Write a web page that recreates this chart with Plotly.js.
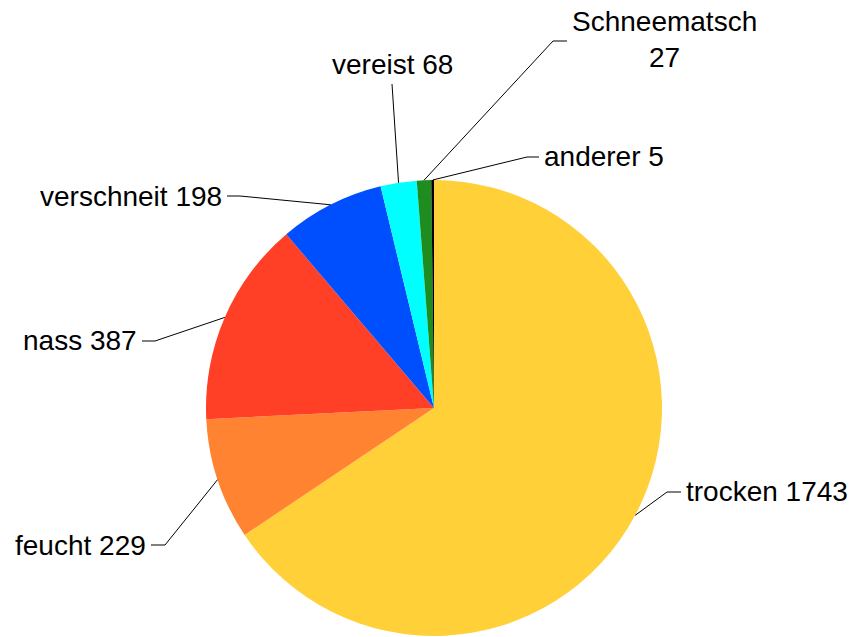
<!DOCTYPE html>
<html>
<head>
<meta charset="utf-8">
<script src="https://cdn.plot.ly/plotly-3.0.1.min.js"></script>
<style>html,body{margin:0;padding:0;background:#fff;}#chart{width:852px;height:637px;}</style>
</head>
<body>
<div id="chart"></div>
<script>
// Data
const categories = ["trocken", "feucht", "nass", "verschneit", "vereist", "Schneematsch", "anderer"];
const values = [1743, 229, 387, 198, 68, 27, 5];
const labelTexts = ["trocken 1743", "feucht 229", "nass 387", "verschneit 198", "vereist 68", "Schneematsch<br>27", "anderer 5"];

// Styles
const colors = ["#FFD038", "#FF8330", "#FF3F26", "#004FFF", "#00FFFF", "#1E8C1E", "#000000"];
const W = 852, H = 637;
const cx = 434, cy = 408, R = 228;   // pie geometry in pixels
// label layout (pixels): bend point, end of horizontal segment, text anchor
const labelLayout = [
  {bx: 667, by: 492, ex: 681, ey: 492, tx: 684, ty: 492, xa: "left",   ya: "middle"},
  {bx: 165, by: 545, ex: 151, ey: 545, tx: 148, ty: 545, xa: "right",  ya: "middle"},
  {bx: 155, by: 341, ex: 142, ey: 341, tx: 139, ty: 341, xa: "right",  ya: "middle"},
  {bx: 240, by: 196, ex: 227, ey: 196, tx: 224, ty: 196, xa: "right",  ya: "middle"},
  {bx: 392, by: 84,  ex: 392, ey: 84,  tx: 392, ty: 82,  xa: "center", ya: "bottom"},
  {bx: 553, by: 41,  ex: 567, ey: 41,  tx: 664, ty: 40,  xa: "center", ya: "middle"},
  {bx: 527, by: 157, ex: 539, ey: 157, tx: 542, ty: 157, xa: "left",   ya: "middle"}
];

const px = x => x / W;
const py = y => 1 - y / H;

const total = values.reduce((a, b) => a + b, 0);
const shapes = [];
const annotations = [];
let cum = 0;
values.forEach((v, i) => {
  const mid = (cum + v / 2) / total * 2 * Math.PI;
  cum += v;
  const ax = cx + R * Math.sin(mid);
  const ay = cy - R * Math.cos(mid);
  const L = labelLayout[i];
  shapes.push({type: "line", xref: "paper", yref: "paper", x0: px(ax), y0: py(ay), x1: px(L.bx), y1: py(L.by), line: {color: "#000", width: 1}});
  if (L.ex !== L.bx || L.ey !== L.by) {
    shapes.push({type: "line", xref: "paper", yref: "paper", x0: px(L.bx), y0: py(L.by), x1: px(L.ex), y1: py(L.ey), line: {color: "#000", width: 1}});
  }
  annotations.push({xref: "paper", yref: "paper", x: px(L.tx), y: py(L.ty), xanchor: L.xa, yanchor: L.ya,
    text: labelTexts[i], showarrow: false, align: "center",
    font: {family: "Liberation Sans, Arial, sans-serif", size: 28, color: "#000"}});
});

const trace = {
  type: "pie",
  labels: categories,
  values: values,
  sort: false,
  direction: "clockwise",
  rotation: 0,
  textinfo: "none",
  hoverinfo: "label+value",
  marker: {colors: colors, line: {width: 0}},
  domain: {x: [(cx - R) / W, (cx + R) / W], y: [py(cy + R), py(cy - R)]}
};

const layout = {
  width: W, height: H,
  margin: {l: 0, r: 0, t: 0, b: 0},
  showlegend: false,
  paper_bgcolor: "#fff",
  shapes: shapes,
  annotations: annotations
};

Plotly.newPlot("chart", [trace], layout, {displayModeBar: false, staticPlot: true});
</script>
</body>
</html>
